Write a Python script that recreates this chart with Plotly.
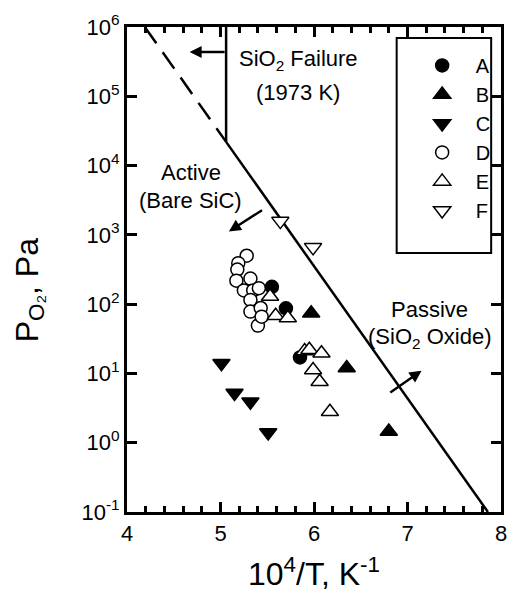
import plotly.graph_objects as go

# ---- data (x = 10^4/T in K^-1, y = P_O2 in Pa) ----
a_x = [5.55, 5.70, 5.85]
a_y = [178, 87, 17]
b_x = [5.97, 6.35, 6.80]
b_y = [74, 12, 1.45]
c_x = [5.01, 5.15, 5.32, 5.51]
c_y = [14, 5.2, 3.9, 1.4]
d_x = [5.28, 5.19, 5.18, 5.17, 5.32, 5.25, 5.35, 5.41, 5.32, 5.32, 5.43, 5.40, 5.44]
d_y = [500, 390, 316, 218, 234, 158, 158, 170, 115, 78, 88, 49, 66]
e_x = [5.53, 5.59, 5.72, 5.90, 5.95, 6.08, 5.99, 6.06, 6.17]
e_y = [129, 68, 63, 21, 22, 19.5, 11.2, 7.6, 2.8]
f_x = [5.64, 5.99]
f_y = [1580, 660]

# active/passive boundary
dash_x = [4.19, 5.06]
dash_y = [1e6, 2.2e4]
solid_x = [5.06, 7.86]
solid_y = [2.2e4, 0.1]
# SiO2 failure (1973 K)
fail_x = [5.06, 5.06]
fail_y = [2.2e4, 1e6]

x_ticks = [4, 5, 6, 7, 8]
y_ticks = [0.1, 1, 10, 100, 1e3, 1e4, 1e5, 1e6]
y_ticktext = ["10<sup>-1</sup>", "10<sup>0</sup>", "10<sup>1</sup>", "10<sup>2</sup>",
              "10<sup>3</sup>", "10<sup>4</sup>", "10<sup>5</sup>", "10<sup>6</sup>"]

FONT = "Liberation Sans, Arial, sans-serif"
fig = go.Figure()

fig.add_trace(go.Scatter(x=dash_x, y=dash_y, mode="lines", showlegend=False,
                         line=dict(color="black", width=2.5, dash="20px,11px")))
fig.add_trace(go.Scatter(x=solid_x, y=solid_y, mode="lines", showlegend=False,
                         line=dict(color="black", width=2.5)))
fig.add_trace(go.Scatter(x=fail_x, y=fail_y, mode="lines", showlegend=False,
                         line=dict(color="black", width=2.5)))

def mk(symbol, filled, size):
    return dict(symbol=symbol, size=size,
                color="black" if filled else "white",
                line=dict(color="black", width=1.5))

fig.add_trace(go.Scatter(x=d_x, y=d_y, mode="markers", name="D", legendrank=4,
                         marker=mk("circle", False, 13)))
fig.add_trace(go.Scatter(x=a_x, y=a_y, mode="markers", name="A", legendrank=1,
                         marker=mk("circle", True, 13)))
fig.add_trace(go.Scatter(x=b_x, y=b_y, mode="markers", name="B", legendrank=2,
                         marker=mk("triangle-up", True, 15)))
fig.add_trace(go.Scatter(x=c_x, y=c_y, mode="markers", name="C", legendrank=3,
                         marker=mk("triangle-down", True, 15)))
fig.add_trace(go.Scatter(x=e_x, y=e_y, mode="markers", name="E", legendrank=5,
                         marker=mk("triangle-up", False, 15)))
fig.add_trace(go.Scatter(x=f_x, y=f_y, mode="markers", name="F", legendrank=6,
                         marker=mk("triangle-down", False, 15)))

ann_font = dict(family=FONT, size=22, color="black")
texts = [
    ("SiO<sub>2</sub> Failure", 5.83, 5.52),
    ("(1973 K)", 5.83, 5.06),
    ("Active", 4.68, 3.90),
    ("(Bare SiC)", 4.675, 3.50),
    ("Passive", 7.24, 1.92),
    ("(SiO<sub>2</sub> Oxide)", 7.24, 1.51),
]
for t, x, ly in texts:
    fig.add_annotation(x=x, y=ly, text=t, showarrow=False, font=ann_font,
                       xanchor="center", yanchor="middle")

arrows = [
    (5.06, 5.64, 4.67, 5.64),
    (5.46, 3.37, 5.09, 3.05),
    (6.80, 0.71, 7.15, 1.04),
]
for x0, y0, x1, y1 in arrows:
    fig.add_annotation(x=x1, y=y1, ax=x0, ay=y0, xref="x", yref="y",
                       axref="x", ayref="y", text="", showarrow=True,
                       arrowhead=2, arrowsize=1.0, arrowwidth=2.4, arrowcolor="black")

# y-axis title placed as rotated annotation (centred lower than plot middle)
fig.add_annotation(xref="paper", yref="paper", x=-0.262, y=0.457,
                   text="P<sub>O₂</sub>, Pa", textangle=-90, showarrow=False,
                   font=dict(family=FONT, size=32, color="black"),
                   xanchor="center", yanchor="middle")

# legend frame
fig.add_shape(type="rect", xref="paper", yref="paper",
              x0=(401 - 127) / 380, x1=(497 - 127) / 380,
              y0=1 - (253 - 27) / 485, y1=1 - (38 - 27) / 485,
              line=dict(color="black", width=2), layer="above")

fig.update_layout(
    width=514, height=606,
    margin=dict(l=127, r=7, t=27, b=94),
    paper_bgcolor="white", plot_bgcolor="white",
    font=dict(family=FONT, color="black"),
    showlegend=True,
    legend=dict(x=0.721, y=0.961, xanchor="left", yanchor="top",
                borderwidth=0, bgcolor="rgba(0,0,0,0)",
                font=dict(family=FONT, size=20), indentation=12,
                itemwidth=57),
    xaxis=dict(range=[4, 8], tickvals=x_ticks, ticks="inside", ticklen=10,
               tickwidth=3, tickcolor="black", showline=True, linewidth=3,
               linecolor="black", mirror="ticks", showgrid=False, zeroline=False,
               tickfont=dict(family=FONT, size=22), ticklabelstandoff=0,
               minor=dict(dtick=0.2, ticks="inside", ticklen=6, tickwidth=2.5,
                          tickcolor="black", showgrid=False),
               title=dict(text="10<sup>4</sup>/T, K<sup>-1</sup>",
                          font=dict(family=FONT, size=32), standoff=18)),
    yaxis=dict(type="log", range=[-1, 6], tickvals=y_ticks, ticktext=y_ticktext,
               ticks="inside", ticklen=10, tickwidth=3, tickcolor="black",
               showline=True, linewidth=3, linecolor="black", mirror="ticks",
               showgrid=False, zeroline=False,
               tickfont=dict(family=FONT, size=22)),
)

fig.write_html("out.html")
